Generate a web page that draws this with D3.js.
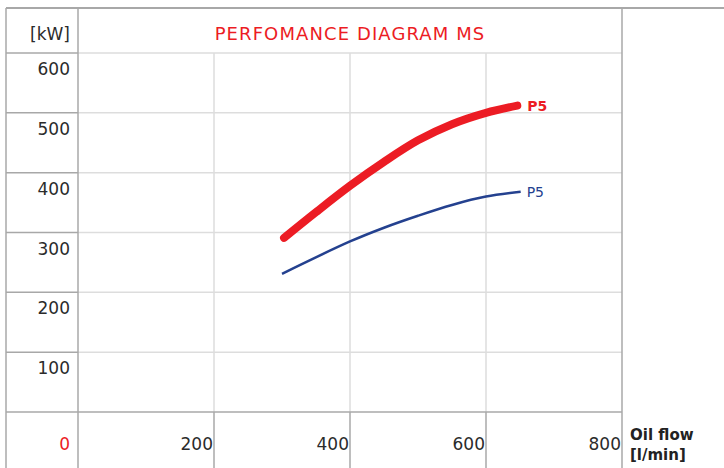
<!DOCTYPE html>
<html>
<head>
<meta charset="utf-8">
<script src="https://cdn.jsdelivr.net/npm/d3@7"></script>
<style>
  body { margin: 0; background: #fff; }
  text { font-family: "DejaVu Sans", sans-serif; }
</style>
</head>
<body>
<svg id="chart" width="724" height="468"></svg>
<script>
// data
var xTicks = [200, 400, 600, 800];
var yTicks = [100, 200, 300, 400, 500, 600];
var redFlow  = [303, 350, 400, 450, 500, 550, 600, 646];
var redPower = [291, 334, 378, 418, 454, 481, 500, 512];
var blueFlow  = [300, 400, 450, 500, 550, 600, 651];
var bluePower = [231, 285, 308, 328, 346, 360, 368];
var title = "PERFOMANCE DIAGRAM MS";

var frame = {left: 6, top: 8, col: 78, right: 622, head: 53, bottom: 412};
var dark = "#a8a8a8", light = "#dddddd";
var ink = "#2b2b2b", red = "#ec1c24", blue = "#24418f";

var svg = d3.select("#chart");

var x = d3.scaleLinear().domain([0, 800]).range([frame.col, frame.right]);
var y = d3.scaleLinear().domain([0, 600]).range([frame.bottom, frame.head]);

// light grid inside plot
var grid = svg.append("g").attr("stroke", light).attr("stroke-width", 1.5);
grid.selectAll(".h").data(yTicks).enter().append("line")
    .attr("x1", frame.col).attr("x2", frame.right)
    .attr("y1", function(d) { return y(d); }).attr("y2", function(d) { return y(d); });
grid.selectAll(".v").data(xTicks.slice(0, 3)).enter().append("line")
    .attr("y1", frame.head).attr("y2", frame.bottom)
    .attr("x1", function(d) { return x(d); }).attr("x2", function(d) { return x(d); });

// darker table frame
var fr = svg.append("g").attr("stroke", dark).attr("stroke-width", 1.5);
fr.append("line").attr("x1", frame.left).attr("x2", 724).attr("y1", frame.top).attr("y2", frame.top).attr("stroke-width", 2);
[frame.left, frame.col, frame.right].forEach(function(xx) {
    fr.append("line").attr("x1", xx).attr("x2", xx).attr("y1", frame.top).attr("y2", 468);
});
fr.append("line").attr("x1", frame.left).attr("x2", frame.right).attr("y1", frame.bottom).attr("y2", frame.bottom);
fr.selectAll(".lh").data(yTicks).enter().append("line")
    .attr("x1", frame.left).attr("x2", frame.col)
    .attr("y1", function(d) { return y(d); }).attr("y2", function(d) { return y(d); });
fr.selectAll(".bv").data(xTicks.slice(0, 3)).enter().append("line")
    .attr("y1", frame.bottom).attr("y2", 468)
    .attr("x1", function(d) { return x(d); }).attr("x2", function(d) { return x(d); });

// header
svg.append("text").attr("x", 70).attr("y", 40).attr("text-anchor", "end")
    .attr("font-size", 17).attr("fill", ink).text("[kW]");
svg.append("text").attr("x", (frame.col + frame.right) / 2).attr("y", 40).attr("text-anchor", "middle")
    .attr("font-size", 18).attr("letter-spacing", 1.1).attr("fill", red).text(title);

// y labels sit at the top of each row
svg.selectAll(".yl").data(yTicks).enter().append("text")
    .attr("x", 70).attr("y", function(d) { return y(d) + 22; })
    .attr("text-anchor", "end").attr("font-size", 17).attr("fill", ink)
    .text(function(d) { return d; });
svg.append("text").attr("x", 70).attr("y", 450).attr("text-anchor", "end")
    .attr("font-size", 17).attr("fill", red).text("0");

// x labels
svg.selectAll(".xl").data(xTicks).enter().append("text")
    .attr("x", function(d) { return x(d) - 1; }).attr("y", 450)
    .attr("text-anchor", "end").attr("font-size", 17).attr("fill", ink)
    .text(function(d) { return d; });

var unit = svg.append("text").attr("x", 630).attr("y", 440)
    .attr("font-size", 15).attr("font-weight", "bold").attr("fill", "#222");
unit.append("tspan").attr("x", 630).text("Oil flow");
unit.append("tspan").attr("x", 630).attr("dy", 20).text("[l/min]");

// curves
var line = d3.line().curve(d3.curveCatmullRom)
    .x(function(d) { return x(d[0]); }).y(function(d) { return y(d[1]); });

var redData = redFlow.map(function(f, i) { return [f, redPower[i]]; });
var blueData = blueFlow.map(function(f, i) { return [f, bluePower[i]]; });

svg.append("path").datum(blueData).attr("d", line)
    .attr("fill", "none").attr("stroke", blue).attr("stroke-width", 2.5);
svg.append("path").datum(redData).attr("d", line)
    .attr("fill", "none").attr("stroke", red).attr("stroke-width", 8)
    .attr("stroke-linecap", "round");

var redEnd = redData[redData.length - 1], blueEnd = blueData[blueData.length - 1];
svg.append("text").attr("x", x(redEnd[0]) + 10).attr("y", y(redEnd[1]) + 5)
    .attr("font-size", 14).attr("font-weight", "bold").attr("fill", red).text("P5");
svg.append("text").attr("x", x(blueEnd[0]) + 6).attr("y", y(blueEnd[1]) + 5)
    .attr("font-size", 14).attr("fill", blue).text("P5");
</script>
</body>
</html>
